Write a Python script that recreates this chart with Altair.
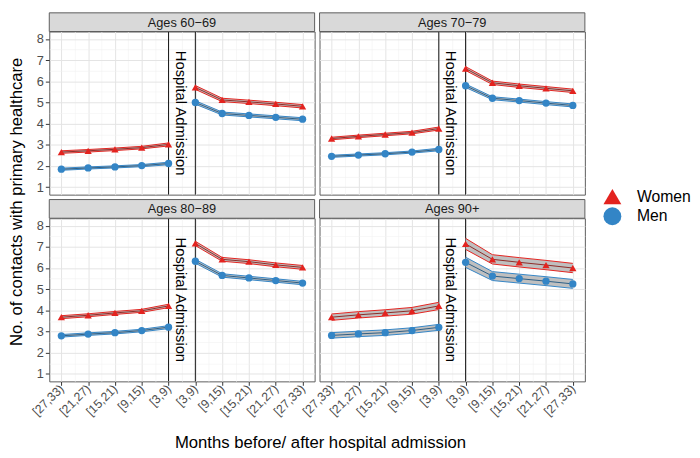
import json
import altair as alt
import pandas as pd

FONT = "Liberation Sans"

# ---------------- data ----------------
panel_titles = ["Ages 60\u221269", "Ages 70\u221279", "Ages 80\u221289", "Ages 90+"]
period_labels = ["[27,33)", "[21,27)", "[15,21)", "[9,15)", "[3,9)",
                 "[3,9)", "[9,15)", "[15,21)", "[21,27)", "[27,33)"]
sexes = ["Women", "Men"]
sex_colors = ["#E3231F", "#3385C6"]
centre_colors = ["#8E2A26", "#2B5E86"]
sex_shapes = ["triangle-up", "circle"]

# mean number of contacts: 5 periods before, 5 periods after admission
women_60 = [2.66, 2.72, 2.79, 2.87, 3.02, 5.71, 5.12, 5.03, 4.93, 4.82]
men_60 = [1.85, 1.91, 1.96, 2.02, 2.12, 5.00, 4.48, 4.39, 4.30, 4.21]
women_70 = [3.30, 3.40, 3.49, 3.58, 3.77, 6.60, 5.93, 5.79, 5.67, 5.55]
men_70 = [2.46, 2.52, 2.58, 2.66, 2.78, 5.79, 5.20, 5.09, 4.97, 4.86]
women_80 = [3.68, 3.77, 3.88, 3.98, 4.21, 7.16, 6.41, 6.30, 6.15, 6.03]
men_80 = [2.80, 2.88, 2.95, 3.05, 3.21, 6.32, 5.65, 5.53, 5.41, 5.29]
women_90 = [3.68, 3.79, 3.88, 3.98, 4.21, 7.14, 6.41, 6.27, 6.14, 6.00]
men_90 = [2.82, 2.89, 2.95, 3.05, 3.20, 6.27, 5.62, 5.50, 5.38, 5.25]

# half-width of the confidence band
women_ci_60 = [0.06, 0.06, 0.06, 0.06, 0.07, 0.09, 0.08, 0.08, 0.08, 0.08]
men_ci_60 = [0.05, 0.05, 0.05, 0.05, 0.06, 0.08, 0.07, 0.07, 0.07, 0.07]
women_ci_70 = [0.06, 0.06, 0.06, 0.06, 0.07, 0.09, 0.08, 0.08, 0.08, 0.08]
men_ci_70 = [0.05, 0.05, 0.05, 0.05, 0.06, 0.08, 0.07, 0.07, 0.07, 0.07]
women_ci_80 = [0.07, 0.07, 0.07, 0.07, 0.08, 0.10, 0.09, 0.09, 0.09, 0.09]
men_ci_80 = [0.06, 0.06, 0.06, 0.06, 0.07, 0.09, 0.08, 0.08, 0.08, 0.08]
women_ci_90 = [0.15, 0.15, 0.15, 0.16, 0.17, 0.26, 0.22, 0.22, 0.22, 0.22]
men_ci_90 = [0.13, 0.13, 0.13, 0.13, 0.14, 0.24, 0.21, 0.21, 0.21, 0.21]

admission_positions = [5, 6]
admission_text = ["Hospital Admission"]
admission_text_x = [5.45]
admission_text_y = [4.5]

women = [women_60, women_70, women_80, women_90]
men = [men_60, men_70, men_80, men_90]
women_ci = [women_ci_60, women_ci_70, women_ci_80, women_ci_90]
men_ci = [men_ci_60, men_ci_70, men_ci_80, men_ci_90]

rows = []
for p, w, m, wc, mc in zip(panel_titles, women, men, women_ci, men_ci):
    for sex, vals, cis in (("Women", w, wc), ("Men", m, mc)):
        for i, (v, c) in enumerate(zip(vals, cis)):
            rows.append(dict(panel=p, sex=sex, x=i + 1,
                             seg="before" if i < 5 else "after",
                             value=v, lo=v - c, hi=v + c))
df = pd.DataFrame(rows)
rules_df = pd.DataFrame({"x": admission_positions})
text_df = pd.DataFrame({"x": admission_text_x, "value": admission_text_y,
                        "label": admission_text})
legend_df = pd.DataFrame({"sex": sexes})

# ---------------- layout ----------------
W, H, SH = 270, 166, 19
X_DOMAIN = [0.55, 10.45]
Y_DOMAIN = [0.65, 8.35]
x_vals = [i / 2 for i in range(2, 21)]
y_vals = [i / 2 for i in range(2, 17)]
minor = "datum.value % 1 !== 0"
grid_color = {"condition": {"test": minor, "value": "#f2f2f2"}, "value": "#e3e3e3"}
grid_width = {"condition": {"test": minor, "value": 0.6}, "value": 1}
tick_op = {"condition": {"test": minor, "value": 0}, "value": 1}
x_label_expr = f"datum.value % 1 === 0 ? {json.dumps(period_labels)}[datum.value - 1] : ''"
y_label_expr = "datum.value % 1 === 0 ? '' + datum.value : ''"

COLOR = alt.Color("sex:N", scale=alt.Scale(domain=sexes, range=sex_colors), legend=None)
SHAPE = alt.Shape("sex:N", scale=alt.Scale(domain=sexes, range=sex_shapes), legend=None)
STROKE = alt.Stroke("sex:N", scale=alt.Scale(domain=sexes, range=sex_colors), legend=None)


def panel(name, show_x, show_y):
    xaxis = alt.Axis(values=x_vals, labelExpr=x_label_expr, labels=show_x, ticks=show_x,
                     labelAngle=-45, labelAlign="right", labelBaseline="middle",
                     labelOverlap=False, labelFlush=False, labelFontSize=12.5,
                     labelColor="#4d4d4d", labelFont=FONT, labelPadding=1,
                     tickColor="#333333", tickSize=4, tickOpacity=tick_op,
                     grid=True, gridColor=grid_color, gridWidth=grid_width,
                     domain=False, title=None)
    yaxis = alt.Axis(values=y_vals, labelExpr=y_label_expr, labels=show_y, ticks=show_y,
                     labelOverlap=False, labelFlush=False, labelFontSize=13,
                     labelColor="#4d4d4d", labelFont=FONT, labelPadding=2,
                     tickColor="#333333", tickSize=4, tickOpacity=tick_op,
                     grid=True, gridColor=grid_color, gridWidth=grid_width,
                     domain=False, title=None)
    ysc = alt.Scale(domain=Y_DOMAIN, nice=False, zero=False)
    X = alt.X("x:Q", scale=alt.Scale(domain=X_DOMAIN, nice=False, zero=False), axis=xaxis)
    Y = alt.Y("value:Q", scale=ysc, axis=yaxis)
    Ylo = alt.Y("lo:Q", scale=ysc, axis=yaxis)
    Yhi = alt.Y("hi:Q", scale=ysc, axis=yaxis)
    d = df[df.panel == name]
    base = alt.Chart(d)

    pts = base.mark_point(filled=True, opacity=1, size=55).encode(x=X, y=Y, color=COLOR, shape=SHAPE)
    area = base.mark_area(color="#bfbfbf", opacity=1).encode(
        x=X, y=alt.Y("lo:Q", scale=ysc, axis=yaxis, stack=None),
        y2="hi:Q", detail=["sex:N", "seg:N"])
    lo_line = base.mark_line(strokeWidth=1).encode(x=X, y=Ylo, stroke=STROKE, detail="seg:N")
    hi_line = base.mark_line(strokeWidth=1).encode(x=X, y=Yhi, stroke=STROKE, detail="seg:N")
    centre = [
        base.transform_filter(alt.datum.sex == s).mark_line(color=c, strokeWidth=1).encode(
            x=X, y=Y, detail="seg:N")
        for s, c in zip(sexes, centre_colors)
    ]
    rules = alt.Chart(rules_df).mark_rule(color="#111111", strokeWidth=1).encode(x=X)
    txt = alt.Chart(text_df).mark_text(angle=90, font=FONT, fontSize=15, color="#000000",
                                       baseline="middle", align="center").encode(
        x=X, y=Y, text="label:N")
    strip_df = pd.DataFrame({"label": [name]})
    strip_box = alt.Chart(strip_df).mark_rect(fill="#d9d9d9", stroke="#5c5c5c", strokeWidth=1).encode(
        x=alt.value(0), x2=alt.value(W), y=alt.value(-SH), y2=alt.value(0))
    strip_txt = alt.Chart(strip_df).mark_text(font=FONT, fontSize=13, color="#1a1a1a",
                                              baseline="middle", align="center").encode(
        text="label:N", x=alt.value(W / 2), y=alt.value(-SH / 2 + 0.5))
    return alt.layer(rules, area, lo_line, hi_line, *centre, pts, txt, strip_box, strip_txt).properties(
        width=W, height=H)


panels = []
for k, name in enumerate(panel_titles):
    panels.append(panel(name, k >= 2, k % 2 == 0))

grid = alt.concat(*panels, columns=2, spacing={"row": 5 + SH, "column": 5},
                  bounds="flush").properties(
    title=alt.TitleParams("Months before/ after hospital admission", orient="bottom",
                          anchor="middle", fontSize=17, font=FONT, fontWeight="normal",
                          color="#000000", offset=17, dx=13))

# legend drawn as its own small chart
LY = alt.Y("sex:N", scale=alt.Scale(type="point", domain=sexes, range=[168, 188], padding=0),
           axis=None)
leg_pts = alt.Chart(legend_df).mark_point(filled=True, opacity=1, size=330).encode(
    x=alt.value(14), y=LY, color=COLOR, shape=SHAPE)
leg_txt = alt.Chart(legend_df).mark_text(font=FONT, fontSize=16, color="#000000",
                                         align="left", baseline="middle").encode(
    x=alt.value(39), y=LY, text="sex:N")
legend_chart = alt.layer(leg_pts, leg_txt).properties(
    width=80, height=2 * H, view=alt.ViewBackground(stroke="transparent"))

chart = alt.hconcat(grid, legend_chart, spacing=12).properties(
    title=alt.TitleParams("No. of contacts with primary healthcare", orient="left",
                          anchor="middle", fontSize=17, font=FONT, fontWeight="normal",
                          color="#000000", offset=4, dx=30),
    padding={"left": 0, "top": 0, "right": 0, "bottom": 0},
).configure(font=FONT).configure_view(stroke="#5c5c5c", strokeWidth=1)

chart.save("out.html", embed_options={"renderer": "svg", "actions": False})
